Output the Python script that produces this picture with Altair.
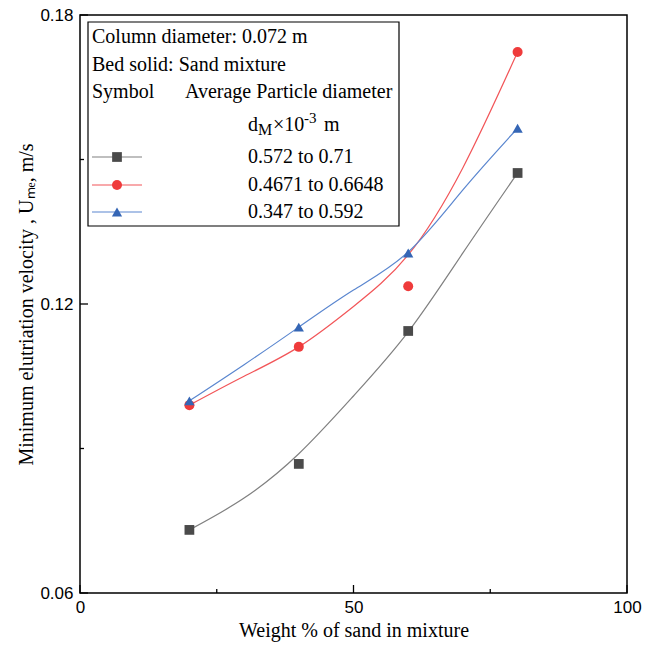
import altair as alt
import pandas as pd

# ---------------- data ----------------
weight_pct = [20, 40, 60, 80]
ume_s1 = [0.0731, 0.0868, 0.1144, 0.1472]   # 0.572 to 0.71
ume_s2 = [0.0990, 0.1111, 0.1237, 0.1723]   # 0.4671 to 0.6648
ume_s3 = [0.0999, 0.1152, 0.1306, 0.1565]   # 0.347 to 0.592

fit_weight = [20, 30, 40, 50, 60, 70, 80]
fit_s1 = [0.0731, 0.0797, 0.0889, 0.1009, 0.1142, 0.1306, 0.1472]
fit_s2 = [0.0990, 0.1050, 0.1111, 0.1195, 0.1302, 0.1483, 0.1723]
fit_s3 = [0.0999, 0.1074, 0.1152, 0.1229, 0.1308, 0.1437, 0.1565]

series_labels = ["0.572 to 0.71", "0.4671 to 0.6648", "0.347 to 0.592"]
marker_colors = ["#4a4a4a", "#ef3b3b", "#3566b5"]
line_colors = ["#808080", "#f25558", "#5a86cf"]
marker_shapes = ["square", "circle", "triangle-up"]
marker_sizes = [95, 105, 180]

x_major = [0, 50, 100]
x_minor = [25, 75]
y_major = [0.06, 0.12, 0.18]
y_minor = [0.09, 0.15]

SERIF = "Liberation Serif"
SANS = "Liberation Sans"
W, H = 547, 578

# ---------------- tables ----------------
pts = pd.DataFrame({
    "w": weight_pct * 3,
    "u": ume_s1 + ume_s2 + ume_s3,
    "s": [series_labels[0]] * 4 + [series_labels[1]] * 4 + [series_labels[2]] * 4,
})
fits = pd.DataFrame({
    "w": fit_weight * 3,
    "u": fit_s1 + fit_s2 + fit_s3,
    "s": [series_labels[0]] * 7 + [series_labels[1]] * 7 + [series_labels[2]] * 7,
})

xscale = alt.Scale(domain=[0, 100], nice=False)
yscale = alt.Scale(domain=[0.06, 0.18], nice=False, zero=False)

x_enc = alt.X("w:Q", scale=xscale, axis=alt.Axis(
    values=x_major, format="d", title="Weight % of sand in mixture",
    ticks=False, domain=False, grid=False, labelPadding=6,
    labelFont=SANS, labelFontSize=17, labelColor="black",
    titleFont=SERIF, titleFontSize=20, titleFontWeight="normal", titleColor="black",
    titlePadding=5, labelFlush=False))
y_enc = alt.Y("u:Q", scale=yscale, axis=alt.Axis(
    values=y_major, format=".2f", title="Minimum elutriation velocity , U\u2098\u2091, m/s",
    ticks=False, domain=False, grid=False, labelPadding=7,
    labelFont=SANS, labelFontSize=17, labelColor="black",
    titleFont=SERIF, titleFontSize=20, titleFontWeight="normal", titleColor="black",
    titlePadding=3, labelFlush=False))

lines = alt.Chart(fits).mark_line(interpolate="natural", strokeWidth=1.2).encode(
    x=x_enc, y=y_enc,
    color=alt.Color("s:N", scale=alt.Scale(domain=series_labels, range=line_colors), legend=None),
    detail="s:N",
)
points = alt.Chart(pts).mark_point(filled=True, opacity=1).encode(
    x=alt.X("w:Q", scale=xscale),
    y=alt.Y("u:Q", scale=yscale),
    color=alt.Color("s:N", scale=alt.Scale(domain=series_labels, range=marker_colors), legend=None),
    shape=alt.Shape("s:N", scale=alt.Scale(domain=series_labels, range=marker_shapes), legend=None),
    size=alt.Size("s:N", scale=alt.Scale(domain=series_labels, range=marker_sizes), legend=None),
)

# inward ticks
xticks_major = alt.Chart(pd.DataFrame({"w": x_major})).mark_rule(color="black", strokeWidth=1.3).encode(
    x=alt.X("w:Q", scale=xscale), y=alt.value(H), y2=alt.value(H - 8))
xticks_minor = alt.Chart(pd.DataFrame({"w": x_minor})).mark_rule(color="black", strokeWidth=1.3).encode(
    x=alt.X("w:Q", scale=xscale), y=alt.value(H), y2=alt.value(H - 4))
yticks_major = alt.Chart(pd.DataFrame({"u": y_major})).mark_rule(color="black", strokeWidth=1.3).encode(
    y=alt.Y("u:Q", scale=yscale), x=alt.value(0), x2=alt.value(8))
yticks_minor = alt.Chart(pd.DataFrame({"u": y_minor})).mark_rule(color="black", strokeWidth=1.3).encode(
    y=alt.Y("u:Q", scale=yscale), x=alt.value(0), x2=alt.value(4))

# ---------------- legend box ----------------
box = alt.Chart(pd.DataFrame({"a": [0]})).mark_rect(fill="white", stroke="black", strokeWidth=1.2).encode(
    x=alt.value(8), x2=alt.value(319), y=alt.value(7), y2=alt.value(211))

leg_txt = pd.DataFrame({
    "tx": [12, 12, 12, 105, 168, 168, 168],
    "ty": [22, 50, 77, 77, 142, 170, 197],
    "t": ["Column diameter: 0.072 m", "Bed solid: Sand mixture", "Symbol",
          "Average Particle diameter"] + series_labels,
})
legend_text = alt.Chart(leg_txt).mark_text(align="left", baseline="middle", font=SERIF,
                                            fontSize=20, color="black").encode(
    x=alt.X("tx:Q", scale=None), y=alt.Y("ty:Q", scale=None), text="t:N")

unit_parts = pd.DataFrame({
    "tx": [168, 178, 193, 224, 244],
    "ty": [110, 115, 110, 103, 110],
    "t": ["d", "M", "\u00d710", "-3", "m"],
    "fs": [20, 16, 20, 15, 20],
})
unit_text = alt.Chart(unit_parts).mark_text(align="left", baseline="middle", font=SERIF,
                                             color="black").encode(
    x=alt.X("tx:Q", scale=None), y=alt.Y("ty:Q", scale=None), text="t:N",
    size=alt.Size("fs:Q", scale=None))

leg_rows = pd.DataFrame({"s": series_labels, "ly": [142, 170, 197]})
legend_lines = alt.Chart(leg_rows).mark_rule(strokeWidth=1.2).encode(
    x=alt.value(12), x2=alt.value(62), y=alt.Y("ly:Q", scale=None),
    color=alt.Color("s:N", scale=alt.Scale(domain=series_labels, range=line_colors), legend=None))
legend_marks = alt.Chart(leg_rows).mark_point(filled=True, opacity=1).encode(
    x=alt.value(37), y=alt.Y("ly:Q", scale=None),
    color=alt.Color("s:N", scale=alt.Scale(domain=series_labels, range=marker_colors), legend=None),
    shape=alt.Shape("s:N", scale=alt.Scale(domain=series_labels, range=marker_shapes), legend=None),
    size=alt.Size("s:N", scale=alt.Scale(domain=series_labels, range=marker_sizes), legend=None))

chart = alt.layer(
    lines, points, xticks_major, xticks_minor, yticks_major, yticks_minor,
    box, legend_text, unit_text, legend_lines, legend_marks,
).resolve_scale(color="independent", shape="independent", size="independent").properties(
    width=W, height=H,
    autosize=alt.AutoSizeParams(type="none"),
    padding={"left": 80, "top": 15, "right": 28, "bottom": 53},
    background="white",
).configure_view(stroke="black", strokeWidth=1.5)

chart.save("out.html", embed_options={"renderer": "svg", "actions": False})
